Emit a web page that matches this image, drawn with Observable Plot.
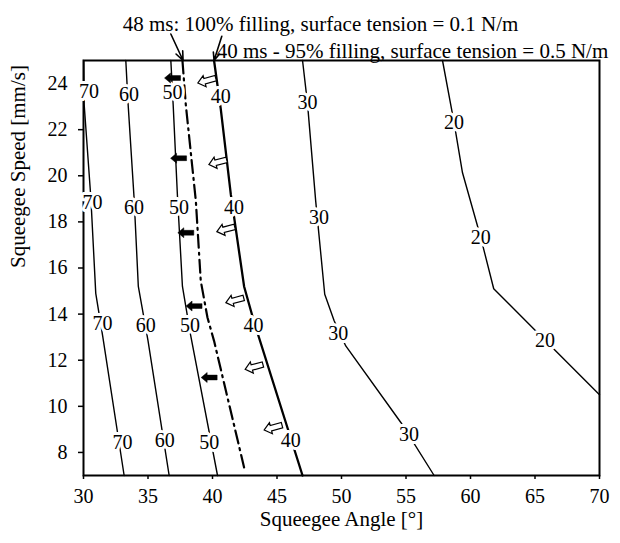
<!DOCTYPE html>
<html><head><meta charset="utf-8">
<script src="https://cdn.jsdelivr.net/npm/d3@7"></script>
<script src="https://cdn.jsdelivr.net/npm/@observablehq/plot@0.6"></script>
<style>
body{margin:0;background:#fff}
svg text, svg tspan { font-family: "Liberation Serif", "Times New Roman", serif !important; }
</style>
</head><body><div id="chart"></div>
<script>
// ---- data ----
const xTicks = [30, 35, 40, 45, 50, 55, 60, 65, 70];
const yTicks = [8, 10, 12, 14, 16, 18, 20, 22, 24];
const levels = [70, 60, 50, 40, 30, 20];

// contour polylines: [angle, speed]
const contour70 = [[30.02,25],[30.05,23.1],[30.57,19.05],[30.95,14.9],[31.5,13.0],[33.15,7.0]];
const contour60 = [[33.28,25],[33.46,23.09],[33.92,19.05],[34.25,15.2],[35.0,12.85],[36.64,7.0]];
const contour50 = [[36.77,25],[36.95,23.09],[37.29,19.05],[37.67,15.2],[38.3,13.1],[40.39,7.0]];
const contour40 = [[40.12,25],[40.64,22.9],[41.42,19.19],[42.45,15.2],[43.2,13.7],[46.98,7.0]];
const contour30 = [[46.98,25],[47.36,23.16],[48.0,18.9],[48.7,14.86],[49.43,13.71],[50.33,12.62],[54.6,9.3],[57.18,7.0]];
const contour20 = [[57.83,25],[58.73,22.29],[59.38,20.13],[60.8,17.31],[61.8,15.1],[65.78,12.87],[70,10.5]];
const contours = [contour70, contour60, contour50, contour40, contour30, contour20];

// contour label positions
const labels70 = [[30.43,23.67],[30.70,18.83],[31.47,13.57],[33.02,8.43]];
const labels60 = [[33.53,23.52],[33.92,18.61],[34.83,13.49],[36.30,8.51]];
const labels50 = [[36.90,23.59],[37.41,18.61],[38.26,13.49],[39.74,8.43]];
const labels40 = [[40.64,23.45],[41.67,18.61],[43.18,13.49],[46.07,8.51]];
const labels30 = [[47.36,23.16],[48.26,18.18],[49.74,13.16],[55.24,8.77]];
const labels20 = [[58.73,22.29],[60.8,17.31],[65.78,12.87]];
const labelSets = [labels70, labels60, labels50, labels40, labels30, labels20];

// 48 ms, 100% filling boundary (dashed)
const filling100 = [[37.67,25],[37.93,23.09],[38.71,18.9],[39.09,15.44],[39.61,13.85],[40.12,12.84],[42.45,7.35]];

// arrow markers
const blackArrows = [[36.90,24.24],[37.37,20.76],[37.93,17.53],[38.57,14.35],[39.74,11.25]];
const whiteArrows = [[39.56,24.13],[40.41,20.59],[41.03,17.68],[41.73,14.60],[43.22,11.71],[44.70,9.08]];

// annotations
const note1 = "48 ms: 100% filling, surface tension = 0.1 N/m";
const note2 = "40 ms - 95% filling, surface tension = 0.5 N/m";
const noteArrows = [
  {x1: 36.77, y1: 26.15, x2: 37.72, y2: 25.0},
  {x1: 40.72, y1: 26.05, x2: 40.12, y2: 25.0}
];
const xLabel = "Squeegee Angle [°]";
const yLabel = "Squeegee Speed [mm/s]";

// ---- build ----
const serif = "Liberation Serif";
const lineRows = contours.flatMap((c, i) => c.map(([x, y]) => ({x, y, level: levels[i]})));
const labelRows = labelSets.flatMap((s, i) => s.map(([x, y]) => ({x, y, level: levels[i]})));
const lines40 = lineRows.filter(d => d.level === 40);
const linesOther = lineRows.filter(d => d.level !== 40);

function arrowSymbol(deg, k) {
  const a = deg * Math.PI / 180, c = Math.cos(a), s = Math.sin(a);
  const pts = [[-8,0],[-2,-5],[-2,-2.4],[8,-2.4],[8,2.4],[-2,2.4],[-2,5]];
  return {
    draw(ctx) {
      pts.forEach(([x, y], i) => {
        const X = k * (x * c - y * s), Y = k * (x * s + y * c);
        i ? ctx.lineTo(X, Y) : ctx.moveTo(X, Y);
      });
      ctx.closePath();
    }
  };
}

const chart = Plot.plot({
  width: 620,
  height: 543,
  marginLeft: 83,
  marginRight: 21,
  marginTop: 60,
  marginBottom: 68,
  style: {fontFamily: serif, fontSize: "20px", color: "black", background: "white"},
  x: {domain: [30, 70]},
  y: {domain: [7, 25]},
  marks: [
    Plot.frame({stroke: "black", strokeWidth: 2}),
    Plot.axisX({ticks: xTicks, tickSize: 4, tickPadding: 9, tickFormat: d => d, label: null, strokeWidth: 1.5, fontSize: 20, fontFamily: serif}),
    Plot.axisY({ticks: yTicks, tickSize: 5, tickPadding: 11, tickFormat: d => d, label: null, strokeWidth: 1.5, fontSize: 20, fontFamily: serif}),
    Plot.line(linesOther, {x: "x", y: "y", z: "level", stroke: "black", strokeWidth: 1.4}),
    Plot.line(lines40, {x: "x", y: "y", stroke: "black", strokeWidth: 2.3}),
    Plot.line(filling100, {x: d => d[0], y: d => d[1], stroke: "black", strokeWidth: 2.2, strokeDasharray: "13,5,2,5"}),
    Plot.text(labelRows, {x: "x", y: "y", text: d => String(d.level), fill: "black", stroke: "white", strokeWidth: 6, fontSize: 20, fontFamily: serif}),
    Plot.dot(blackArrows, {x: d => d[0], y: d => d[1], symbol: arrowSymbol(0, 1), fill: "black", stroke: "black", strokeWidth: 0.5}),
    Plot.dot(whiteArrows, {x: d => d[0], y: d => d[1], symbol: arrowSymbol(-15, 1.15), fill: "white", stroke: "black", strokeWidth: 1.2}),
    Plot.arrow(noteArrows, {x1: "x1", y1: "y1", x2: "x2", y2: "y2", stroke: "black", strokeWidth: 1.6, headLength: 9, headAngle: 45}),
    Plot.text([note1], {frameAnchor: "top", dx: -21, dy: -44, fontSize: 21, fill: "black", fontFamily: serif}),
    Plot.text([note2], {frameAnchor: "top", dx: 71, dy: -17, fontSize: 21, fill: "black", fontFamily: serif}),
    Plot.text([xLabel], {frameAnchor: "bottom", dy: 50, fontSize: 21, fill: "black", fontFamily: serif}),
    Plot.text([yLabel], {frameAnchor: "left", dx: -65, rotate: -90, fontSize: 21, fill: "black", fontFamily: serif})
  ]
});
document.getElementById("chart").append(chart);
</script></body></html>
